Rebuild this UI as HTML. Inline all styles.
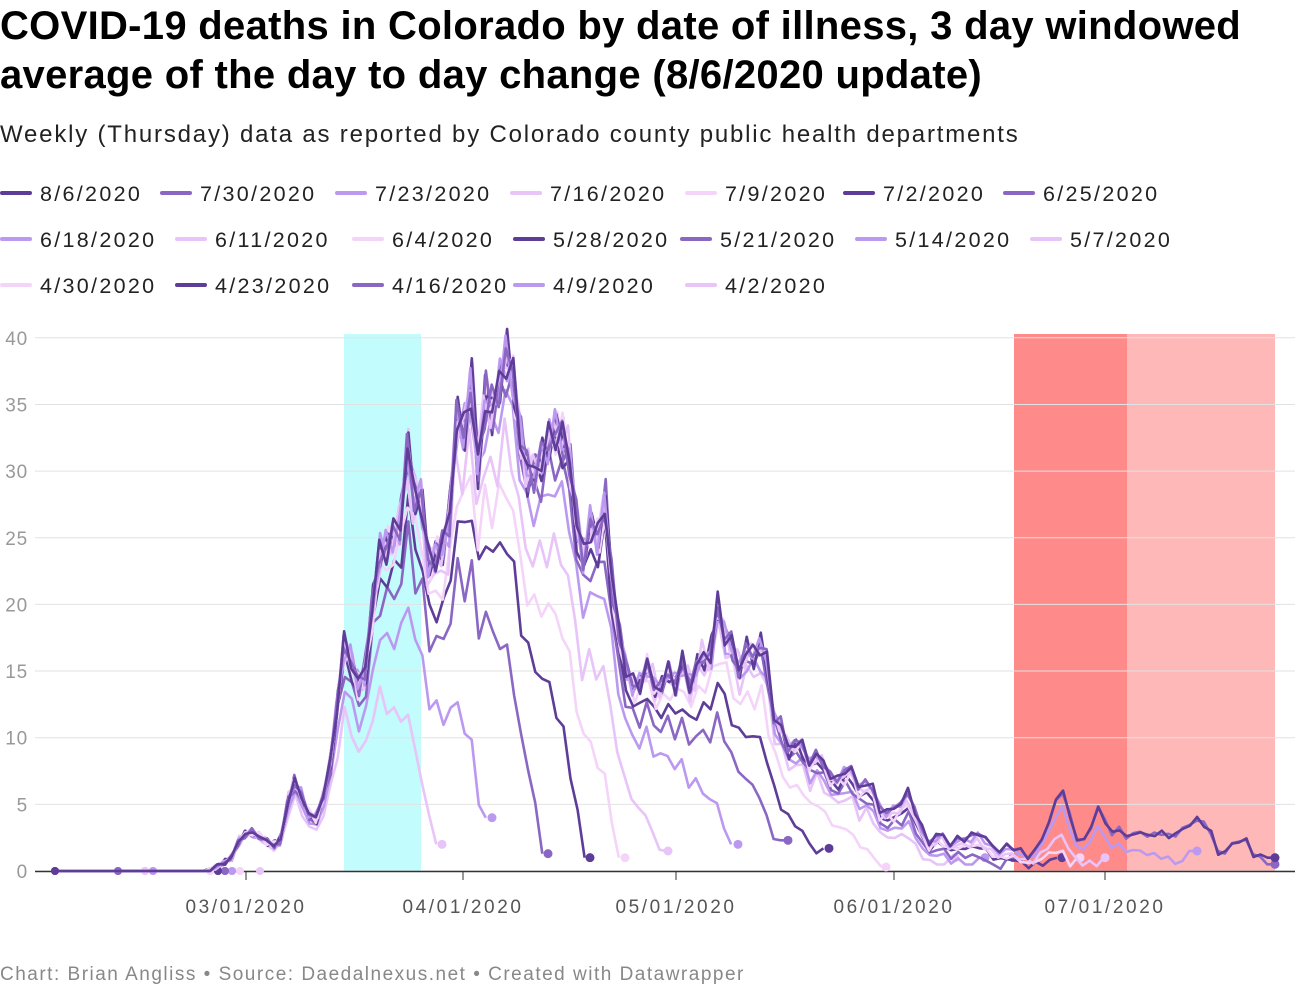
<!DOCTYPE html>
<html><head><meta charset="utf-8"><style>
body{margin:0;width:1300px;height:1000px;background:#fff;font-family:"Liberation Sans",sans-serif;position:relative;overflow:hidden}
.t{position:absolute;left:0;top:2px;font-size:40px;font-weight:bold;line-height:49px;color:#000;letter-spacing:0.3px}
.s{position:absolute;left:0;top:121px;font-size:24px;color:#222;letter-spacing:1.8px}
.lg{position:absolute;font-size:21.5px;color:#222;white-space:nowrap;letter-spacing:2.3px}
.lg i{display:inline-block;width:32px;height:4px;border-radius:2px;vertical-align:middle;margin-right:8px;position:relative;top:-2px}
.f{position:absolute;left:0;top:964px;font-size:19px;color:#888;letter-spacing:1.5px}
</style></head><body>
<div class="t">COVID-19 deaths in Colorado by date of illness, 3 day windowed<br>average of the day to day change (8/6/2020 update)</div>
<div class="s">Weekly (Thursday) data as reported by Colorado county public health departments</div>
<div id="leg"></div>
<svg id="ch" width="1300" height="1000" style="position:absolute;left:0;top:0"></svg>
<div class="f">Chart: Brian Angliss • Source: Daedalnexus.net • Created with Datawrapper</div>
<script>
var C=["#5e3d99","#8b67c4","#bc99f0","#e8c4f8","#f5d4fa"];
var names=["8/6/2020","7/30/2020","7/23/2020","7/16/2020","7/9/2020","7/2/2020","6/25/2020","6/18/2020","6/11/2020","6/4/2020","5/28/2020","5/21/2020","5/14/2020","5/7/2020","4/30/2020","4/23/2020","4/16/2020","4/9/2020","4/2/2020"];
var lx=[[0,160,335,510,685,843,1003],[0,175,352,513,680,855,1030],[0,175,352,513,685]];
var ly=[195,241,287],h="",k=0;
for(var r=0;r<3;r++)for(var j=0;j<lx[r].length;j++){h+='<div class="lg" style="left:'+lx[r][j]+'px;top:'+(ly[r]-13)+'px"><i style="background:'+C[k%5]+'"></i>'+names[k]+'</div>';k++;}
document.getElementById('leg').innerHTML=h;
var s='';
function Y(v){return 871-v*13.33;}
s+='<rect x="344" y="334" width="77" height="537" fill="#c2fcfc"/>';
s+='<rect x="1014" y="334" width="113" height="537" fill="#ff8a8a"/>';
s+='<rect x="1127" y="334" width="148" height="537" fill="#ffb8b8"/>';
for(var v=0;v<=40;v+=5){var y=Y(v);s+='<line x1="35" x2="1295" y1="'+y+'" y2="'+y+'" stroke="#e2e2e2" stroke-width="1"/>';s+='<text x="28" y="'+(y+7)+'" text-anchor="end" font-size="19" fill="#999" letter-spacing="0.8">'+v+'</text>';}
s+='<line x1="35" x2="1295" y1="871.5" y2="871.5" stroke="#333" stroke-width="1.5"/>';
[[246,"03/01/2020"],[463,"04/01/2020"],[676,"05/01/2020"],[894,"06/01/2020"],[1105,"07/01/2020"]].forEach(function(a){s+='<line x1="'+a[0]+'" x2="'+a[0]+'" y1="872" y2="880" stroke="#333"/><text x="'+a[0]+'" y="913" text-anchor="middle" font-size="19" fill="#555" letter-spacing="2.6">'+a[1]+'</text>';});
var K=[[55,0],[210,0],[232,1],[240,2.5],[250,3],[262,2.5],[270,2],[280,2],[292,7],[300,6],[310,4],[318,4],[330,8],[344,17],[351,16],[362,13],[372,20],[380,24],[388,24.5],[400,26],[408,32],[414,28],[420,29],[428,23],[440,24],[448,25],[456,34],[464,33],[472,37],[478,30],[486,36],[494,34],[502,38],[510,39],[516,35],[526,30],[534,30],[542,31],[552,33],[560,33],[568,32],[574,28],[582,23],[590,26],[598,25],[606,28],[614,20],[624,16],[630,14],[640,14],[650,16],[656,13],[668,15],[676,14],[684,16],[692,13],[700,17],[708,15],[718,20],[724,18],[732,17],[740,15],[748,17],[756,16],[764,18],[772,12],[780,11],[790,9],[800,10],[810,8],[820,9],[830,7],[840,7],[850,8],[860,6],[870,7],[880,4.5],[890,4.5],[900,5],[908,6],[918,4],[928,2],[940,3],[950,2],[960,2.5],[970,2.5],[980,3],[990,2],[1000,1.5],[1010,2],[1020,1.5],[1030,1],[1040,2],[1050,4],[1064,6.5],[1072,3],[1082,2],[1090,3],[1098,5],[1108,3],[1120,3],[1130,2.5],[1140,3],[1150,2.5],[1160,3],[1170,2.5],[1180,3],[1190,3.5],[1200,4],[1210,3],[1220,1],[1232,2],[1244,2.5],[1256,1],[1274,1]];
function base(x){for(var i=1;i<K.length;i++)if(x<=K[i][0]){var a=K[i-1],b=K[i];return a[1]+(b[1]-a[1])*(x-a[0])/(b[0]-a[0]);}return 1;}
var ends=[1275,1275,1197,1105,1080,1062,1013,985,955,886,829,788,738,668,625,590,548,492,442];
var starts=[55,118,153,145,210,218,225,232,232,240,55,118,153,145,210,218,225,232,260];
var ev=[1,0.5,1.5,1,1,1,1,1,1,0.3,1.7,2.3,2,1.5,1,1,1.3,4,2];
for(var n=18;n>=0;n--){
 var e=ends[n],st=starts[n],p='',x;
 for(x=st;x<=e;x+=7.05){
  var d=e-x;
  var g=(n<2)?1:Math.min(1,1.25*d/(d+80));
  var v=base(x)*g*(1+0.05*Math.sin(x*0.37+n*1.7))+0.2*Math.sin(x*0.5+n);
  if(x<205)v=0;
  if(v<0)v=0;
  if(d<8)v=ev[n];
  p+=(p?'L':'M')+x.toFixed(1)+','+Y(v).toFixed(1);
 }
 var c=C[n%5];
 s+='<path d="'+p+'" fill="none" stroke="'+c+'" stroke-width="2.6" stroke-linejoin="round"/>';
 s+='<circle cx="'+e+'" cy="'+Y(ev[n])+'" r="4.5" fill="'+c+'"/>';
 s+='<circle cx="'+st+'" cy="'+Y(0)+'" r="4" fill="'+c+'"/>';
}
document.getElementById('ch').innerHTML=s;
</script>
</body></html>
